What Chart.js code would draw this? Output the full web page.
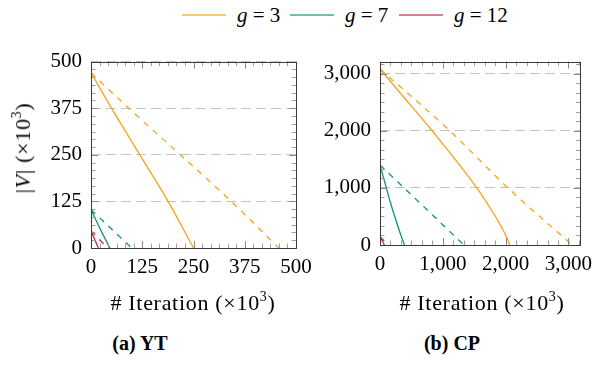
<!DOCTYPE html>
<html>
<head>
<meta charset="utf-8">
<script src="https://cdn.jsdelivr.net/npm/chart.js@4/dist/chart.umd.min.js"></script>
<style>
  html,body{margin:0;padding:0;background:#fff;width:596px;height:365px;overflow:hidden;font-family:"Liberation Serif",serif;color:#000;}
  canvas{position:absolute;}
  .t{position:absolute;white-space:nowrap;font-size:20px;line-height:1;}
  .ax{font-size:22px;letter-spacing:0.7px;}
  .leg{position:absolute;top:4px;left:0;width:596px;height:22px;}
  .ln{position:absolute;top:10px;height:2px;width:44px;opacity:0.6;}
  .lt{position:absolute;top:0;font-size:21px;line-height:22px;white-space:nowrap;}
  sup{font-size:14px;vertical-align:0;position:relative;top:-9px;}
</style>
</head>
<body>
<div class="leg">
  <div class="ln" style="left:182px;background:#f5a21e"></div>
  <div class="lt" style="left:237px"><i>g</i> = 3</div>
  <div class="ln" style="left:290px;background:#12957d"></div>
  <div class="lt" style="left:345px"><i>g</i> = 7</div>
  <div class="ln" style="left:399px;background:#b5323c"></div>
  <div class="lt" style="left:454px"><i>g</i> = 12</div>
</div>
<canvas id="c1" width="330" height="250" style="left:0;top:40px"></canvas>
<canvas id="c2" width="300" height="250" style="left:300px;top:40px"></canvas>
<div class="t ax" style="left:23px;top:148px;transform:translate(-50%,-50%) rotate(-90deg);">|<i>V</i>|&nbsp;(×10<sup>3</sup>)</div>
<div class="t ax" style="left:193px;top:292px;transform:translateX(-50%);"># Iteration (×10<sup>3</sup>)</div>
<div class="t ax" style="left:482px;top:292px;transform:translateX(-50%);"># Iteration (×10<sup>3</sup>)</div>
<div class="t" style="left:140px;top:333px;transform:translateX(-50%);font-weight:bold;">(a) YT</div>
<div class="t" style="left:452px;top:333px;transform:translateX(-50%);font-weight:bold;">(b) CP</div>
<script>
// ---------- DATA (values in thousands) ----------
// (a) YT
const ytTicks = [0, 125, 250, 375, 500];
const yt_g3_solid_x  = [0, 50, 119, 188, 250];
const yt_g3_solid_y  = [470, 375, 250, 125, 0];
const yt_g3_dash_x   = [0, 92, 218, 342, 458];
const yt_g3_dash_y   = [470, 375, 250, 125, 0];
const yt_g7_solid_x  = [0, 22, 46];
const yt_g7_solid_y  = [103, 52, 0];
const yt_g7_dash_x   = [0, 99];
const yt_g7_dash_y   = [103, 0];
const yt_g12_solid_x = [0, 18];
const yt_g12_solid_y = [46, 0];
const yt_g12_dash_x  = [0, 41];
const yt_g12_dash_y  = [46, 0];
// (b) CP
const cpTicks = [0, 1000, 2000, 3000];
const cp_g3_solid_x  = [0, 322, 829, 1540, 1780, 1940, 2030, 2063];
const cp_g3_solid_y  = [3080, 2661, 2000, 1000, 600, 300, 100, 0];
const cp_g3_dash_x   = [0, 1110, 2035, 3060];
const cp_g3_dash_y   = [3080, 2000, 1000, 0];
const cp_g7_solid_x  = [0, 78, 156, 311, 389];
const cp_g7_solid_y  = [1400, 1090, 779, 242, 0];
const cp_g7_dash_x   = [0, 1337];
const cp_g7_dash_y   = [1400, 0];
const cp_g12_solid_x = [0, 70];
const cp_g12_solid_y = [145, 0];
const cp_g12_dash_x  = [0, 130];
const cp_g12_dash_y  = [145, 0];

const COLORS = {g3:'#f5a21e', g7:'#12957d', g12:'#b5323c'};
const FONT = {family:'"Liberation Serif", serif', size:21};

function pts(xs, ys){ return xs.map((x,i)=>({x:x, y:ys[i]})); }
function ds(xs, ys, color, dashed, smooth){
  return {data:pts(xs,ys), borderColor:color, borderWidth:1.3, pointRadius:0,
          showLine:true, fill:false, borderDash: dashed?[6,6]:[],
          cubicInterpolationMode: smooth?'monotone':'default', tension:0};
}

const framePlugin = {
  id:'frame',
  afterDraw(chart, args, opts){
    const ctx = chart.ctx, a = chart.chartArea;
    const xs = chart.scales.x, ys = chart.scales.y;
    const major = opts.ticks, nMinor = 6;
    ctx.save();
    ctx.lineWidth = 1;
    function ticks(scale, horizontal){
      const vals = [];
      for (let i=0;i<major.length;i++){
        vals.push({v:major[i], M:true});
        const step = (major[1]-major[0])/nMinor;
        for (let k=1;k<nMinor;k++){
          const v = major[i]+k*step;
          if (v < scale.max) vals.push({v:v, M:false});
        }
      }
      vals.forEach(t=>{
        const p = Math.round(scale.getPixelForValue(t.v))+0.5;
        const L = t.M?7:4.5;
        ctx.strokeStyle = t.M ? '#8a8a8a' : '#a0a0a0';
        ctx.beginPath();
        if (horizontal){
          ctx.moveTo(p, a.bottom); ctx.lineTo(p, a.bottom-L);
          ctx.moveTo(p, a.top); ctx.lineTo(p, a.top+L);
        } else {
          ctx.moveTo(a.left, p); ctx.lineTo(a.left+L, p);
          ctx.moveTo(a.right, p); ctx.lineTo(a.right-L, p);
        }
        ctx.stroke();
      });
    }
    ticks(xs, true);
    ticks(ys, false);
    ctx.strokeStyle = '#3a3a3a';
    ctx.lineWidth = 1;
    ctx.strokeRect(Math.round(a.left)+0.5, Math.round(a.top)+0.5, Math.round(a.right-a.left), Math.round(a.bottom-a.top));
    ctx.restore();
  }
};

function makeChart(id, datasets, tickVals, xMax, yMax, yWidth, xHeight, pad, fmt){
  return new Chart(document.getElementById(id), {
    type:'scatter',
    data:{datasets:datasets},
    options:{
      responsive:false, animation:false, devicePixelRatio:1,
      layout:{padding:pad},
      plugins:{legend:{display:false}, tooltip:{enabled:false}, frame:{ticks:tickVals}},
      scales:{
        x:{type:'linear', min:0, max:xMax,
           afterBuildTicks:s=>{s.ticks = tickVals.map(v=>({value:v}));},
           afterFit:s=>{s.height = xHeight;},
           grid:{display:false, drawTicks:false}, border:{display:false},
           ticks:{padding:7, color:'#000', font:FONT, maxRotation:0, autoSkip:false, callback:fmt}},
        y:{type:'linear', min:0, max:yMax,
           afterBuildTicks:s=>{s.ticks = tickVals.map(v=>({value:v}));},
           afterFit:s=>{s.width = yWidth;},
           grid:{color:'#c4c4c4', lineWidth:1, drawTicks:false},
           border:{display:false, dash:[10,5]},
           ticks:{padding:9, color:'#000', font:FONT, autoSkip:false, callback:fmt}}
      }
    },
    plugins:[framePlugin]
  });
}

const fmtPlain = v => String(v);
const fmtComma = v => Number(v).toLocaleString('en-US');

makeChart('c1', [
  ds(yt_g3_solid_x, yt_g3_solid_y, COLORS.g3, false, true),
  ds(yt_g3_dash_x, yt_g3_dash_y, COLORS.g3, true, true),
  ds(yt_g7_solid_x, yt_g7_solid_y, COLORS.g7, false, true),
  ds(yt_g7_dash_x, yt_g7_dash_y, COLORS.g7, true, false),
  ds(yt_g12_solid_x, yt_g12_solid_y, COLORS.g12, false, false),
  ds(yt_g12_dash_x, yt_g12_dash_y, COLORS.g12, true, false)
], ytTicks, 500, 500, 91, 42, {top:10, right:34, left:0, bottom:0}, fmtPlain);

makeChart('c2', [
  ds(cp_g3_solid_x, cp_g3_solid_y, COLORS.g3, false, true),
  ds(cp_g3_dash_x, cp_g3_dash_y, COLORS.g3, true, true),
  ds(cp_g7_solid_x, cp_g7_solid_y, COLORS.g7, false, true),
  ds(cp_g7_dash_x, cp_g7_dash_y, COLORS.g7, true, false),
  ds(cp_g12_solid_x, cp_g12_solid_y, COLORS.g12, false, false),
  ds(cp_g12_dash_x, cp_g12_dash_y, COLORS.g12, true, false)
], cpTicks, 3190, 3210, 80, 45, {top:6, right:14.7, left:0, bottom:0}, fmtComma);
</script>
</body>
</html>
